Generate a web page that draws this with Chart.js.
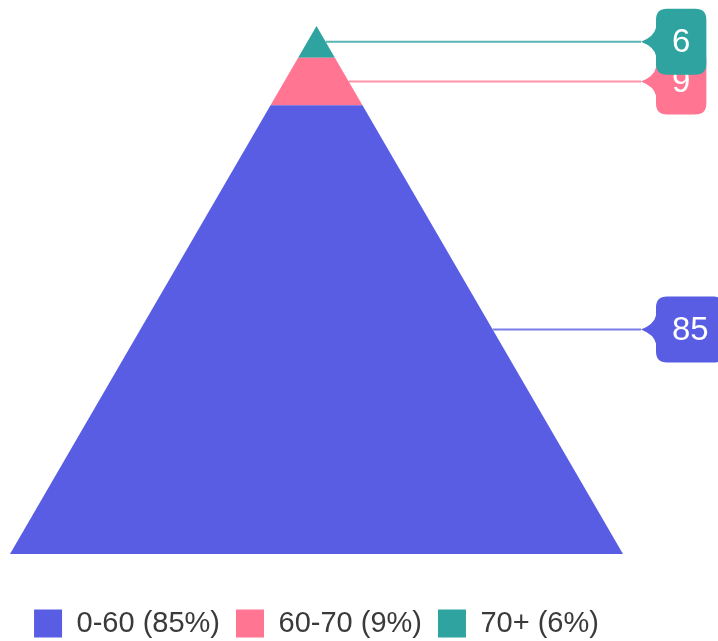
<!DOCTYPE html>
<html>
<head>
<meta charset="utf-8">
<title>Age distribution pyramid</title>
<script src="https://cdn.jsdelivr.net/npm/chart.js@4/dist/chart.umd.min.js"></script>
<style>
  html, body { margin: 0; padding: 0; background: #ffffff; }
  #wrap { width: 718px; height: 641px; }
</style>
</head>
<body>
<div id="wrap"><canvas id="pyramid" width="718" height="641"></canvas></div>
<script>
// Age bands, from the base of the pyramid up to its tip
const categories = ['0-60', '60-70', '70+'];
const values = [85, 9, 6];

const palette = ['#585de3', '#ff7592', '#2ea39f'];
const FONT = '"Liberation Sans", Arial, Helvetica, sans-serif';

const total = values.reduce((a, b) => a + b, 0);
// half-width of the pyramid at a given cumulative height (1 at the base, 0 at the tip)
const halfWidth = h => 1 - h / total;

let cumulative = 0;
const datasets = categories.map((cat, i) => {
  const lo = cumulative;
  const hi = cumulative + values[i];
  cumulative = hi;
  return {
    label: `${cat} (${Math.round(values[i] / total * 100)}%)`,
    data: [
      { x: -halfWidth(lo), y: lo },
      { x: halfWidth(lo), y: lo },
      { x: halfWidth(hi), y: hi },
      { x: -halfWidth(hi), y: hi }
    ],
    value: values[i],
    lo, hi,
    backgroundColor: palette[i],
    borderColor: palette[i],
    borderWidth: 0,
    fill: 'shape',
    pointRadius: 0,
    pointHoverRadius: 0,
    tension: 0
  };
});

// Value badges on the right, joined to each band by a leader line
const calloutPlugin = {
  id: 'callouts',
  afterDatasetsDraw(chart) {
    const { ctx, chartArea, scales: { x, y } } = chart;
    chart.data.datasets.forEach((ds, i) => {
      const mid = (ds.lo + ds.hi) / 2;
      const py = y.getPixelForValue(mid);
      const px = x.getPixelForValue(halfWidth(mid));
      const tipX = chartArea.right + 18;
      const bodyX = tipX + 15;
      const text = String(ds.value);

      ctx.save();
      ctx.font = '33px ' + FONT;
      const bw = ctx.measureText(text).width + 32;
      const bh = 66;
      const r = 11;
      const top = py - bh / 2;

      ctx.strokeStyle = palette[i];
      ctx.globalAlpha = 0.8;
      ctx.lineWidth = 2;
      ctx.beginPath();
      ctx.moveTo(px, py);
      ctx.lineTo(tipX, py);
      ctx.stroke();
      ctx.globalAlpha = 1;

      ctx.fillStyle = palette[i];
      ctx.beginPath();
      ctx.moveTo(bodyX + r, top);
      ctx.lineTo(bodyX + bw - r, top);
      ctx.quadraticCurveTo(bodyX + bw, top, bodyX + bw, top + r);
      ctx.lineTo(bodyX + bw, top + bh - r);
      ctx.quadraticCurveTo(bodyX + bw, top + bh, bodyX + bw - r, top + bh);
      ctx.lineTo(bodyX + r, top + bh);
      ctx.quadraticCurveTo(bodyX, top + bh, bodyX, top + bh - r);
      ctx.lineTo(bodyX, py + 14);
      ctx.quadraticCurveTo(bodyX - 2, py + 5, tipX, py);
      ctx.quadraticCurveTo(bodyX - 2, py - 5, bodyX, py - 14);
      ctx.lineTo(bodyX, top + r);
      ctx.quadraticCurveTo(bodyX, top, bodyX + r, top);
      ctx.closePath();
      ctx.fill();

      ctx.fillStyle = '#ffffff';
      ctx.textAlign = 'center';
      ctx.textBaseline = 'middle';
      ctx.fillText(text, bodyX + bw / 2, py + 1);
      ctx.restore();
    });
  }
};

new Chart(document.getElementById('pyramid'), {
  type: 'line',
  data: { datasets },
  options: {
    responsive: false,
    animation: false,
    events: [],
    layout: { padding: { top: 26, left: 10, right: 95, bottom: -7 } },
    scales: {
      x: { type: 'linear', min: -1, max: 1, display: false },
      y: { type: 'linear', min: 0, max: total, display: false }
    },
    plugins: {
      tooltip: { enabled: false },
      legend: {
        position: 'bottom',
        title: { display: true, text: '', padding: { top: 27, bottom: 0 }, font: { size: 10 } },
        labels: {
          boxWidth: 28,
          boxHeight: 28,
          padding: 16,
          color: '#3a3a3a',
          font: { size: 29, family: FONT }
        }
      }
    }
  },
  plugins: [calloutPlugin]
});
</script>
</body>
</html>
